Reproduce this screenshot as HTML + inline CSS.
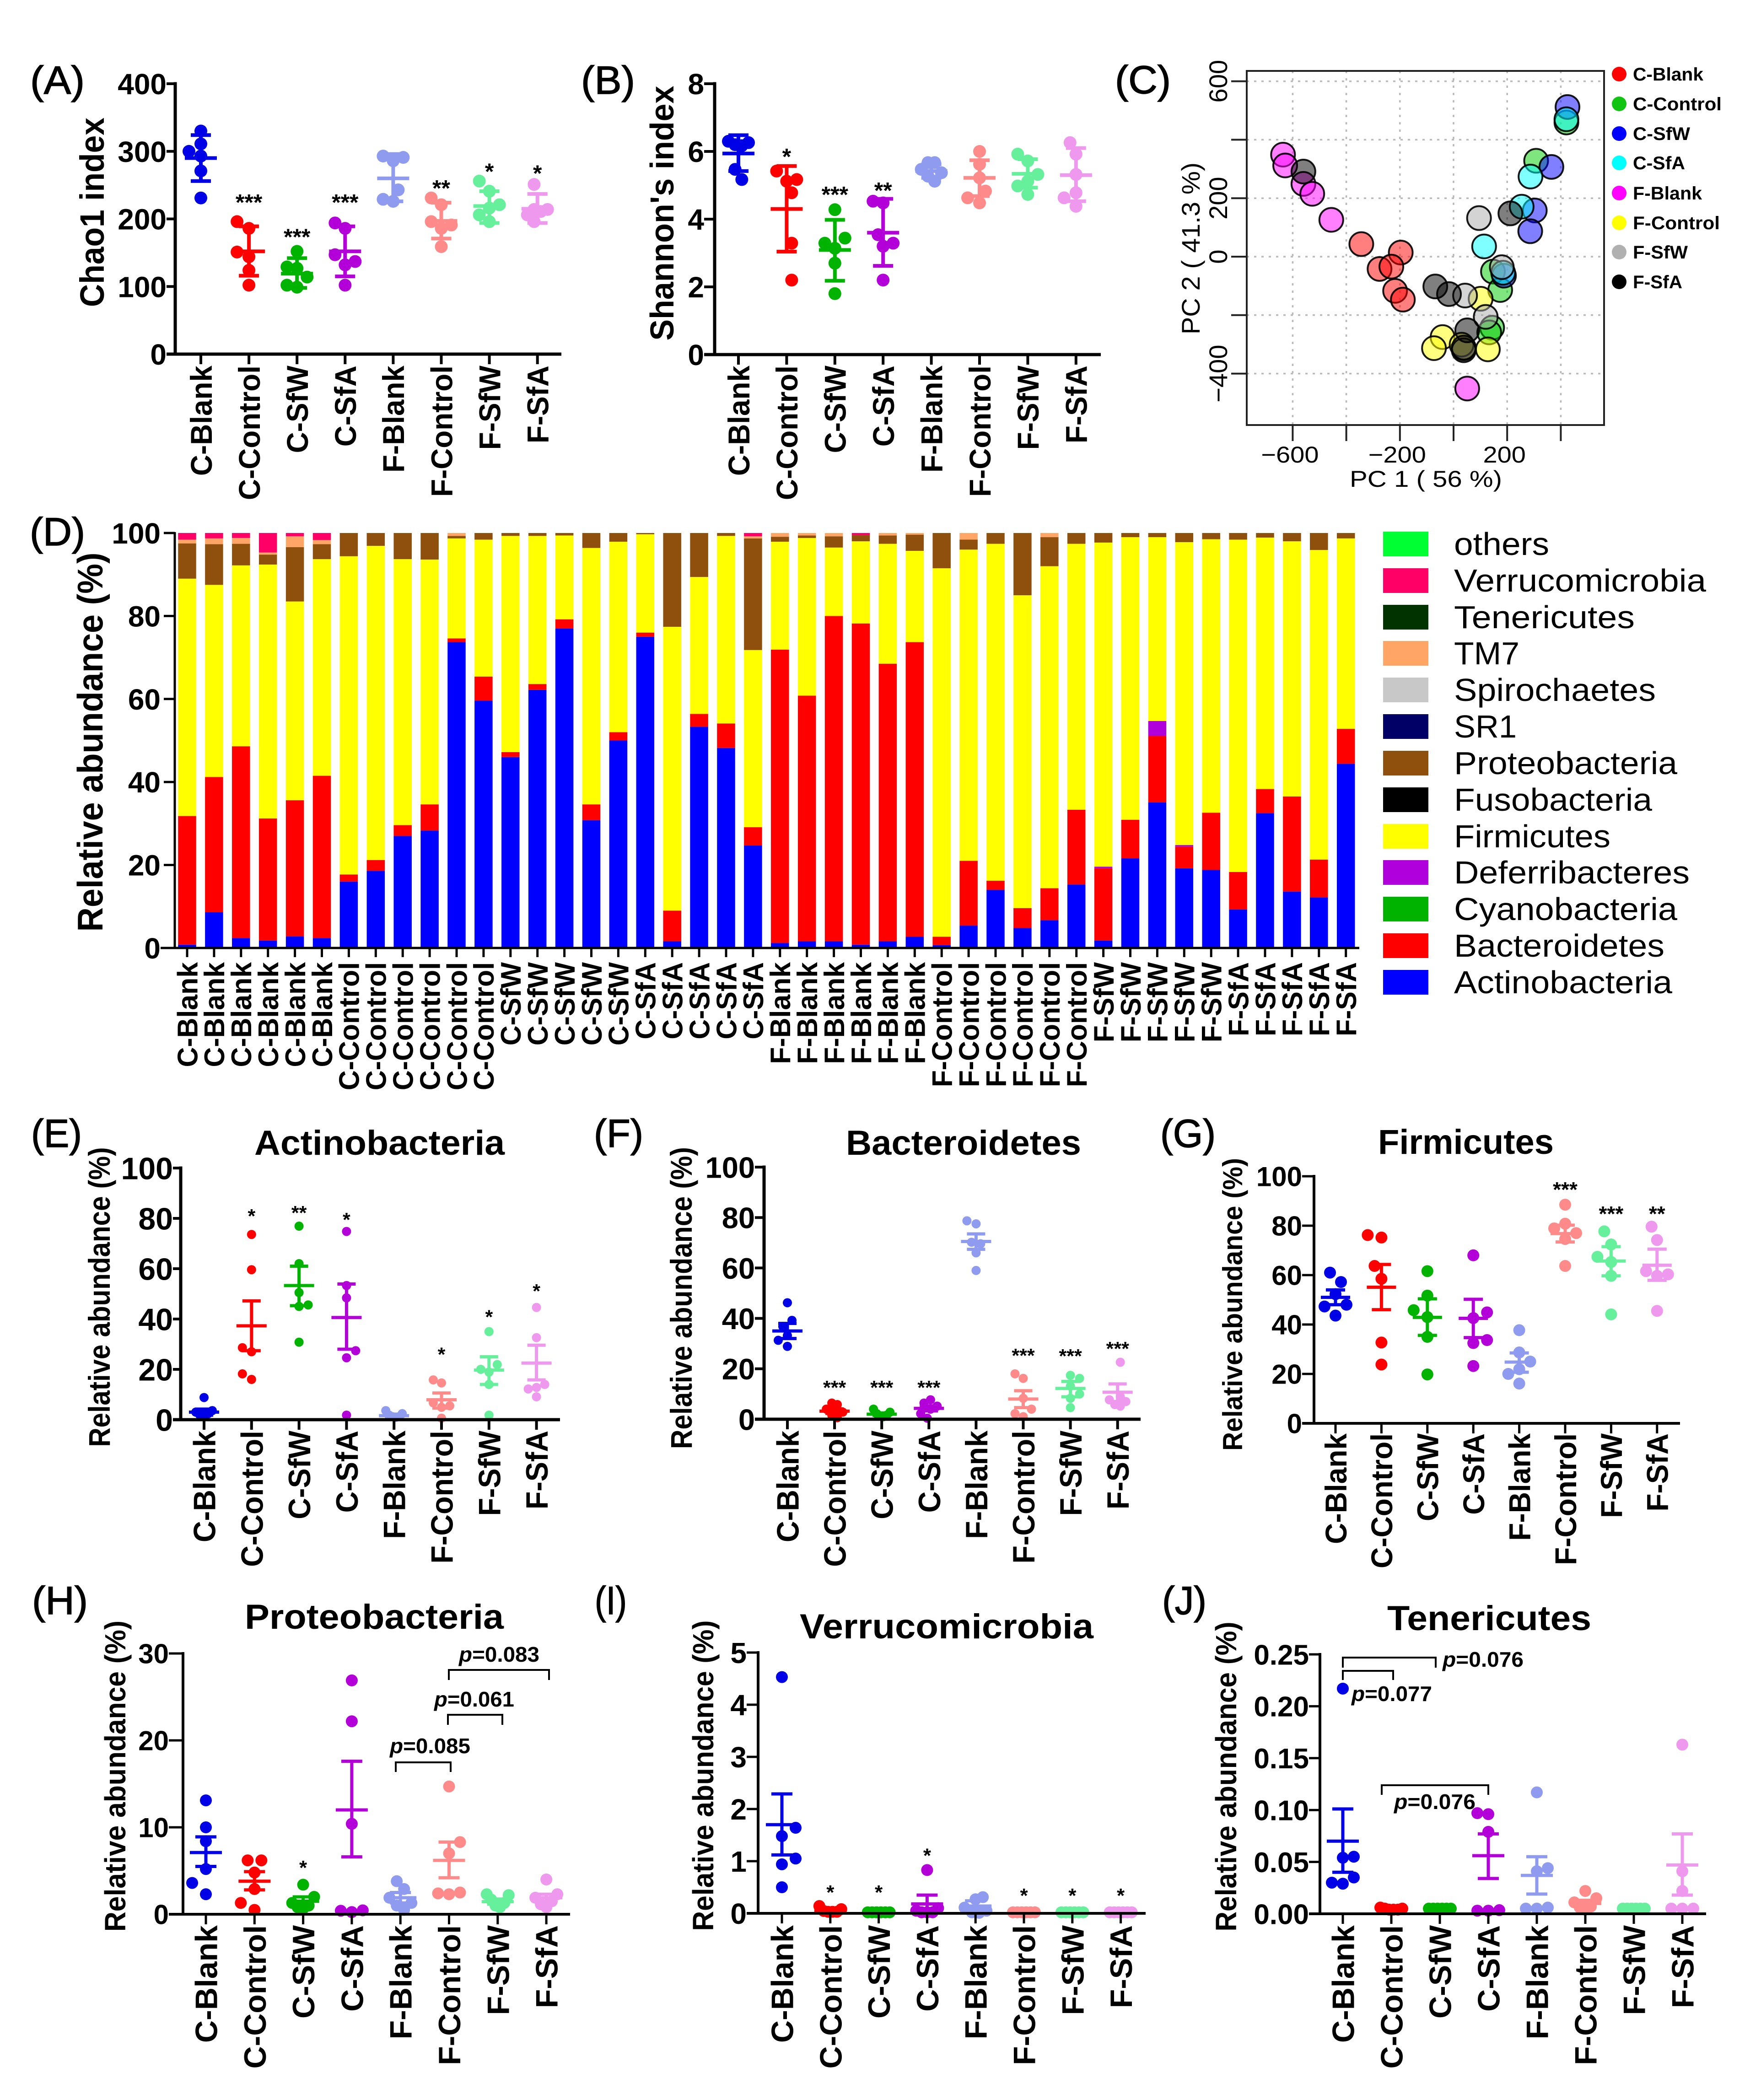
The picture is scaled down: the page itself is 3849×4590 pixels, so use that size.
<!DOCTYPE html>
<html lang="en">
<head>
<meta charset="utf-8">
<title>Gut microbiota diversity and composition figure</title>
<style>
  html, body { margin: 0; padding: 0; background: #fff; }
  svg { display: block; font-family: "Liberation Sans", sans-serif; }
  .b { font-weight: 700; }
</style>
</head>
<body>
<svg id="figure" xmlns="http://www.w3.org/2000/svg" width="3849" height="4590" viewBox="0 0 3849 4590">
  <rect x="0" y="0" width="3849" height="4590" fill="#fff"/>

  <!-- Panel letters -->
  <g font-size="86" fill="#000" stroke="#000" stroke-width="1.5">
    <text x="66" y="205" textLength="119" lengthAdjust="spacingAndGlyphs">(A)</text>
    <text x="1270" y="205" textLength="118" lengthAdjust="spacingAndGlyphs">(B)</text>
    <text x="2437" y="204" textLength="122" lengthAdjust="spacingAndGlyphs">(C)</text>
    <text x="65" y="1192" textLength="121" lengthAdjust="spacingAndGlyphs">(D)</text>
    <text x="68" y="2507" textLength="111" lengthAdjust="spacingAndGlyphs">(E)</text>
    <text x="1298" y="2507" textLength="108" lengthAdjust="spacingAndGlyphs">(F)</text>
    <text x="2536" y="2507" textLength="121" lengthAdjust="spacingAndGlyphs">(G)</text>
    <text x="70" y="3528" textLength="122" lengthAdjust="spacingAndGlyphs">(H)</text>
    <text x="1300" y="3528" textLength="70" lengthAdjust="spacingAndGlyphs">(I)</text>
    <text x="2540" y="3528" textLength="97" lengthAdjust="spacingAndGlyphs">(J)</text>
  </g>

  <!-- Axis titles -->
  <g class="b" fill="#000" text-anchor="middle">
    <text transform="translate(227,464) rotate(-90)" font-size="74" textLength="414" lengthAdjust="spacingAndGlyphs">Chao1 index</text>
    <text transform="translate(1472,466) rotate(-90)" font-size="72" textLength="557" lengthAdjust="spacingAndGlyphs">Shannon's index</text>
    <text transform="translate(224,1622) rotate(-90)" font-size="78" textLength="829" lengthAdjust="spacingAndGlyphs">Relative abundance (%)</text>
    <text transform="translate(240,2835) rotate(-90)" font-size="66" textLength="655" lengthAdjust="spacingAndGlyphs">Relative abundance (%)</text>
    <text transform="translate(1512,2837) rotate(-90)" font-size="66" textLength="660" lengthAdjust="spacingAndGlyphs">Relative abundance (%)</text>
    <text transform="translate(2715,2851) rotate(-90)" font-size="60" textLength="640" lengthAdjust="spacingAndGlyphs">Relative abundance (%)</text>
    <text transform="translate(274,3882) rotate(-90)" font-size="64" textLength="680" lengthAdjust="spacingAndGlyphs">Relative abundance (%)</text>
    <text transform="translate(1559,3881) rotate(-90)" font-size="64" textLength="679" lengthAdjust="spacingAndGlyphs">Relative abundance (%)</text>
    <text transform="translate(2702,3883) rotate(-90)" font-size="64" textLength="677" lengthAdjust="spacingAndGlyphs">Relative abundance (%)</text>
  </g>

  <!-- Chart titles -->
  <g class="b" fill="#000" font-size="76">
    <text x="556" y="2524" textLength="547" lengthAdjust="spacingAndGlyphs">Actinobacteria</text>
    <text x="1849" y="2524" textLength="514" lengthAdjust="spacingAndGlyphs">Bacteroidetes</text>
    <text x="3012" y="2522" textLength="384" lengthAdjust="spacingAndGlyphs">Firmicutes</text>
    <text x="535" y="3560" textLength="566" lengthAdjust="spacingAndGlyphs">Proteobacteria</text>
    <text x="1748" y="3581" textLength="642" lengthAdjust="spacingAndGlyphs">Verrucomicrobia</text>
    <text x="3032" y="3563" textLength="446" lengthAdjust="spacingAndGlyphs">Tenericutes</text>
  </g>

  <!-- P-value annotations -->
  <g fill="none" stroke="#000" stroke-width="4">
    <path d="M865 3873V3852H985V3873"/>
    <path d="M979 3770V3748H1098V3770"/>
    <path d="M981 3672V3650H1200V3672"/>
    <path d="M2935 3645V3623H3138V3645"/>
    <path d="M2935 3672V3652H3045V3672"/>
    <path d="M3020 3923V3902H3253V3923"/>
  </g>
  <g class="b" fill="#000" font-size="46">
    <text x="852" y="3832" textLength="176" lengthAdjust="spacingAndGlyphs"><tspan font-style="italic">p</tspan>=0.085</text>
    <text x="949" y="3730" textLength="175" lengthAdjust="spacingAndGlyphs"><tspan font-style="italic">p</tspan>=0.061</text>
    <text x="1003" y="3632" textLength="176" lengthAdjust="spacingAndGlyphs"><tspan font-style="italic">p</tspan>=0.083</text>
    <text x="3153" y="3643" textLength="177" lengthAdjust="spacingAndGlyphs"><tspan font-style="italic">p</tspan>=0.076</text>
    <text x="2954" y="3718" textLength="176" lengthAdjust="spacingAndGlyphs"><tspan font-style="italic">p</tspan>=0.077</text>
    <text x="3047" y="3954" textLength="178" lengthAdjust="spacingAndGlyphs"><tspan font-style="italic">p</tspan>=0.076</text>
  </g>

  <!-- PCoA axis titles -->
  <g fill="#000" font-size="50">
    <text x="2950" y="1064" textLength="333" lengthAdjust="spacingAndGlyphs">PC 1 ( 56 %)</text>
    <text transform="translate(2622,543) rotate(-90)" text-anchor="middle" font-size="56" textLength="376" lengthAdjust="spacingAndGlyphs">PC 2 ( 41.3 %)</text>
  </g>

  <!-- PCoA legend -->
  <g class="b" font-size="40" fill="#000">
    <circle cx="3539" cy="162" r="16" fill="#f00"/>
    <text x="3569" y="176" textLength="154" lengthAdjust="spacingAndGlyphs">C-Blank</text>
    <circle cx="3539" cy="227" r="16" fill="#11c411"/>
    <text x="3569" y="241" textLength="194" lengthAdjust="spacingAndGlyphs">C-Control</text>
    <circle cx="3539" cy="292" r="16" fill="#00f"/>
    <text x="3569" y="306" textLength="125" lengthAdjust="spacingAndGlyphs">C-SfW</text>
    <circle cx="3539" cy="356" r="16" fill="#0ff"/>
    <text x="3569" y="370" textLength="114" lengthAdjust="spacingAndGlyphs">C-SfA</text>
    <circle cx="3539" cy="422" r="16" fill="#f0f"/>
    <text x="3569" y="436" textLength="151" lengthAdjust="spacingAndGlyphs">F-Blank</text>
    <circle cx="3539" cy="487" r="16" fill="#ff0"/>
    <text x="3569" y="501" textLength="190" lengthAdjust="spacingAndGlyphs">F-Control</text>
    <circle cx="3539" cy="551" r="16" fill="#b0b0b0"/>
    <text x="3569" y="565" textLength="120" lengthAdjust="spacingAndGlyphs">F-SfW</text>
    <circle cx="3539" cy="616" r="16" fill="#000"/>
    <text x="3569" y="630" textLength="108" lengthAdjust="spacingAndGlyphs">F-SfA</text>
  </g>

  <!-- Stacked bar legend -->
  <g font-size="70" fill="#000">
    <rect x="3023" y="1162" width="99" height="54" fill="#00ff33"/>
    <text x="3178" y="1213" textLength="208" lengthAdjust="spacingAndGlyphs">others</text>
    <rect x="3023" y="1242" width="99" height="54" fill="#ff0066"/>
    <text x="3178" y="1293" textLength="551" lengthAdjust="spacingAndGlyphs">Verrucomicrobia</text>
    <rect x="3023" y="1322" width="99" height="54" fill="#003300"/>
    <text x="3178" y="1373" textLength="395" lengthAdjust="spacingAndGlyphs">Tenericutes</text>
    <rect x="3023" y="1401" width="99" height="54" fill="#ffa666"/>
    <text x="3178" y="1452" textLength="143" lengthAdjust="spacingAndGlyphs">TM7</text>
    <rect x="3023" y="1481" width="99" height="54" fill="#c8c8c8"/>
    <text x="3178" y="1532" textLength="441" lengthAdjust="spacingAndGlyphs">Spirochaetes</text>
    <rect x="3023" y="1561" width="99" height="54" fill="#000066"/>
    <text x="3178" y="1612" textLength="137" lengthAdjust="spacingAndGlyphs">SR1</text>
    <rect x="3023" y="1641" width="99" height="54" fill="#8f4f0d"/>
    <text x="3178" y="1692" textLength="488" lengthAdjust="spacingAndGlyphs">Proteobacteria</text>
    <rect x="3023" y="1721" width="99" height="54" fill="#000"/>
    <text x="3178" y="1772" textLength="433" lengthAdjust="spacingAndGlyphs">Fusobacteria</text>
    <rect x="3023" y="1801" width="99" height="54" fill="#ffff00"/>
    <text x="3178" y="1852" textLength="342" lengthAdjust="spacingAndGlyphs">Firmicutes</text>
    <rect x="3023" y="1880" width="99" height="54" fill="#b000dc"/>
    <text x="3178" y="1931" textLength="515" lengthAdjust="spacingAndGlyphs">Deferribacteres</text>
    <rect x="3023" y="1960" width="99" height="54" fill="#00b300"/>
    <text x="3178" y="2011" textLength="488" lengthAdjust="spacingAndGlyphs">Cyanobacteria</text>
    <rect x="3023" y="2040" width="99" height="54" fill="#ff0000"/>
    <text x="3178" y="2091" textLength="460" lengthAdjust="spacingAndGlyphs">Bacteroidetes</text>
    <rect x="3023" y="2120" width="99" height="54" fill="#0000ff"/>
    <text x="3178" y="2171" textLength="477" lengthAdjust="spacingAndGlyphs">Actinobacteria</text>
  </g>

  <g id="plots"></g>
</svg>

<script>
// ---------- shared category data ----------
const categories = ['C-Blank','C-Control','C-SfW','C-SfA','F-Blank','F-Control','F-SfW','F-SfA'];
const groupColors = ['#0000e6','#ff0000','#00b300','#b300d9','#8f9bee','#ff8a8a','#66f09c','#ee99ee'];

// ---------- panel A: Chao1 ----------
const chao1Ticks = ['0','100','200','300','400'];
const chao1Values = [[330,311,300,293,271,231],[196,186,151,144,124,102],[152,129,127,114,102,99],[194,186,147,137,132,102],[293,291,286,243,229,226],[231,221,196,191,186,159],[256,241,221,216,206,196],[251,214,214,211,206,196]];
const chao1Means = [290,152,119,152,260,197,219,215];
const chao1Upper = [324,189,142,189,296,224,241,237];
const chao1Lower = [256,116,98,115,226,171,194,194];
const chao1Stars = ['','***','***','***','','**','*','*'];
const chao1StarHeights = [0,232,181,232,0,253,278,275];

// ---------- panel B: Shannon ----------
const shannonTicks = ['0','2','4','6','8'];
const shannonValues = [[6.3,6.26,6.2,6.17,5.47,5.17],[5.42,5.17,5.12,4.78,3.29,2.2],[4.28,3.44,3.29,3.14,2.7,1.8],[4.53,4.48,3.54,3.29,3.2,2.2],[5.67,5.67,5.47,5.37,5.27,5.12],[6.0,5.62,5.22,4.83,4.63,4.48],[5.92,5.72,5.32,5.12,4.98,4.73],[6.26,5.92,5.32,4.78,4.63,4.38]];
const shannonMeans = [5.94,4.3,3.09,3.6,5.42,5.22,5.34,5.3];
const shannonUpper = [6.48,5.57,3.98,4.6,5.62,5.74,5.77,6.1];
const shannonLower = [5.42,3.04,2.18,2.62,5.22,4.68,4.93,4.53];
const shannonStars = ['','*','***','**','','','',''];
const shannonStarHeights = [0,6.0,4.88,5.0,0,0,0,0];

// ---------- panel C: PCoA ----------
const pcaXTicks = [-600,-400,-200,0,200,400];
const pcaYTicks = [600,400,200,0,-200,-400];
const pcaXTickLabels = ['\u2212600','','\u2212200','','200',''];
const pcaYTickLabels = ['600','','200','0','','\u2212400'];
const pcaColors = ['#ff0000','#00cc00','#0000ff','#00ffff','#ff00ff','#ffff00','#aaaaaa','#000000'];
const pcaX = [[-344,-197,-276,-232,-218,-189],[308,147,174,144,133,421],[425,365,303,286,188],[421,287,254,114,185],[-636,-628,-560,-527,-456,51],[101,-41,-73,38,128,30],[95,180,43,120,38],[-560,212,-68,-17,51,38]];
const pcaY = [[43,14,-42,-34,-117,-147],[328,-51,-114,-243,-259,459],[512,307,158,87,-65],[470,274,171,35,-55],[349,312,249,215,126,-451],[-144,-275,-313,-313,-317,-301],[132,-36,-133,-206,-311],[291,148,-102,-128,-252,-320]];

// ---------- panel D: stacked composition ----------
const sampleLabels = ['C-Blank','C-Blank','C-Blank','C-Blank','C-Blank','C-Blank','C-Control','C-Control','C-Control','C-Control','C-Control','C-Control','C-SfW','C-SfW','C-SfW','C-SfW','C-SfW','C-SfA','C-SfA','C-SfA','C-SfA','C-SfA','F-Blank','F-Blank','F-Blank','F-Blank','F-Blank','F-Blank','F-Control','F-Control','F-Control','F-Control','F-Control','F-Control','F-SfW','F-SfW','F-SfW','F-SfW','F-SfW','F-SfA','F-SfA','F-SfA','F-SfA','F-SfA'];
const stackTicks = ['0','20','40','60','80','100'];
const stackNames = ['actinobacteria','bacteroidetes','deferribacteres','firmicutes','proteobacteria','tm7','verrucomicrobia'];
const stackColors = ['#0000ff','#ff0000','#b000dc','#ffff00','#8f4f0d','#ffa666','#ff0066'];
const actinobacteria = [0.8,8.6,2.4,1.8,2.8,2.4,16,18.6,27,28.3,73.7,59.6,46,62.2,77,30.8,50,75,1.6,53.3,48.2,24.7,1.2,1.6,1.6,0.8,1.6,2.7,0.7,5.4,14,4.8,6.7,15.3,1.8,21.6,35.1,19.2,18.8,9.3,32.5,13.6,12.2,44.4];
const bacteroidetes = [31,32.6,46.2,29.4,32.8,39.1,1.7,2.6,2.6,6.3,0.9,5.8,1.2,1.4,2.2,3.8,2,1,7.4,3.1,5.9,4.4,70.7,59.2,78.4,77.4,66.9,71,2,15.6,2.2,4.8,7.7,18,17.4,9.3,16,5.2,13.8,9,5.8,22.9,9.1,8.4];
const deferribacteres = [0,0,0,0,0,0,0,0,0,0,0,0,0,0,0,0,0,0,0,0,0,0,0,0,0,0,0,0,0,0,0,0,0,0,0.4,0,3.6,0.4,0,0,0,0,0,0];
const firmicutes = [57.2,46.3,43.6,61.2,47.9,52.2,76.7,75.7,64.1,59,24.1,33,52.1,35.7,20.2,61.8,45.9,23.7,68.4,33,45.2,42.7,26,38,16.5,19.8,28.9,22,88.8,75,81.2,75.4,77.6,64.1,78.1,68.1,44.3,73,65.9,80.1,60.6,61.5,74.6,45.9];
const proteobacteria = [8.5,9.8,5.2,2.4,13.1,3.6,5.6,3.1,6.3,6.4,0.6,1.6,0.7,0.7,0.6,3.6,2.1,0.3,22.6,10.6,0.7,26.9,1.2,0.6,2.7,1.5,2,3.9,8.5,2.4,2.6,15,7,2.6,2.3,1,1,2.2,1.5,1.6,1.1,2,4.1,1.3];
const tm7 = [0.9,1.4,1.4,0.5,2.6,1,0,0,0,0,0.7,0,0,0,0,0,0,0,0,0,0,0.5,0.9,0.6,0.8,0,0.6,0.4,0,1.6,0,0,1,0,0,0,0,0,0,0,0,0,0,0];
const verrucomicrobia = [1.6,1.3,1.2,4.7,0.8,1.7,0,0,0,0,0,0,0,0,0,0,0,0,0,0,0,0.8,0,0,0,0.5,0,0,0,0,0,0,0,0,0,0,0,0,0,0,0,0,0,0];
const stackSeries = [actinobacteria,bacteroidetes,deferribacteres,firmicutes,proteobacteria,tm7,verrucomicrobia];

// ---------- panel E: Actinobacteria ----------
const actinoTicks = ['0','20','40','60','80','100'];
const actinoValues = [[8.8,3.6,3,2.4,1.8,1.2],[73.6,59.6,28.6,27,18.2,16],[76.9,62,50.5,45.6,45,30.8],[74.8,53.3,48.4,27.4,24.6,1.8],[3.6,2.4,1.8,1.2,1.2,0.9],[15.8,14.6,6.7,5.5,4.9,0.6],[35,21.9,20,18.9,14,1.8],[44.6,32.6,14,12.8,12.2,9.1]];
const actinoMeans = [3,37.3,53.3,40.6,1.6,7.9,19.7,22.5];
const actinoUpper = [4.2,47.2,61,53.9,2.2,10.6,25,29.6];
const actinoLower = [1.8,27.4,45.3,28,1,4.6,14,15.8];
const actinoStars = ['','*','**','*','','*','*','*'];
const actinoStarHeights = [0,82.7,84,81.3,0,27.7,42.6,52.9];

// ---------- panel F: Bacteroidetes ----------
const bacteroTicks = ['0','20','40','60','80','100'];
const bacteroValues = [[46.2,39.2,36.8,33.2,31.3,28.9],[6.4,5.8,4,2.8,1.6,0.6],[4,2.8,2.2,1.6,1.2,1],[7.7,6.4,5.2,4,2.2,0.4],[78.7,77.5,70.2,69.6,66,59],[18,16.2,8.3,4,2.2,1],[17.4,16.2,13.1,10,8.3,4.6],[22.6,8.9,7.7,7,5.8,5.2]];
const bacteroMeans = [35,3.2,2,4.3,70.5,8,12.2,10.7];
const bacteroUpper = [38,4.1,2.5,5.3,73.5,11.3,15,14];
const bacteroLower = [32,2.3,1.5,3.3,67.4,4.6,8.9,7];
const bacteroStars = ['','***','***','***','','***','***','***'];
const bacteroStarHeights = [0,14.3,14.3,14.3,0,27,26.9,29.8];

// ---------- panel G: Firmicutes ----------
const firmTicks = ['0','20','40','60','80','100'];
const firmValues = [[61,57.2,52.3,48,47.3,43.6],[76.2,75.2,63.7,58.5,32.7,23.8],[61.6,51.7,45.8,43,35,19.8],[68,44.9,42.6,33.7,32.5,23.2],[37.7,28.7,25,21.9,20,16.1],[88.5,80.8,78.9,77,74.6,63.7],[77.7,72.4,67.4,65.3,59.7,44.1],[79.6,74.2,61.6,60.3,59.7,45.5]];
const firmMeans = [51,55.1,42.9,42.5,24.8,76.8,65.7,64];
const firmUpper = [54,64.3,50.4,50.2,28.5,80.2,71.5,70.5];
const firmLower = [48,46,35.6,34.7,20.7,73.4,59.7,57.9];
const firmStars = ['','','','','','***','***','**'];
const firmStarHeights = [0,0,0,0,0,96.5,86.7,86.7];

// ---------- panel H: Proteobacteria ----------
const proteoTicks = ['0','10','20','30'];
const proteoValues = [[13.1,10,8.4,5.2,3.6,2.3],[6.2,6.2,4.8,2.9,1.3,0.5],[3.4,2,1.3,1,0.8,0.65],[26.9,22.2,10.4,0.45,0.4,0.25],[3.8,2.9,1.9,1.3,1,0.5],[14.7,8.3,7,2.5,2.4,2.3],[2.3,2.2,1.7,1.3,1,0.8],[4,2.3,1.9,1.5,1.15,0.8]];
const proteoMeans = [7.1,3.8,1.5,12,1.9,6.2,1.45,1.9];
const proteoUpper = [8.9,4.9,2,17.6,2.5,8.3,1.75,2.3];
const proteoLower = [5.5,2.8,1,6.6,1.3,4.2,1.15,1.5];
const proteoStars = ['','','*','','','','',''];
const proteoStarHeights = [0,0,5.9,0,0,0,0,0];

// ---------- panel I: Verrucomicrobia ----------
const verruTicks = ['0','1','2','3','4','5'];
const verruValues = [[4.53,1.64,1.48,1.05,0.94,0.5],[0.14,0.08,0.045,0.03,0.03,0.03],[0.02,0.02,0.02,0.02,0.02,0.02],[0.83,0.1,0.05,0.02,0.02,0.02],[0.31,0.27,0.11,0.05,0.02,0.01],[0.02,0.02,0.02,0.02,0.02,0.02],[0.02,0.02,0.02,0.02,0.02,0.02],[0.02,0.02,0.02,0.02,0.02,0.02]];
const verruMeans = [1.7,0.05,0.02,0.18,0.14,0.02,0.02,0.02];
const verruUpper = [2.29,0.07,0.02,0.35,0.24,0.02,0.02,0.02];
const verruLower = [1.12,0.03,0.02,0.02,0.04,0.02,0.02,0.02];
const verruStars = ['','*','*','*','','*','*','*'];
const verruStarHeights = [0,0.49,0.49,1.2,0,0.43,0.43,0.43];

// ---------- panel J: Tenericutes ----------
const teneTicks = ['0.00','0.05','0.10','0.15','0.20','0.25'];
const teneValues = [[0.217,0.055,0.054,0.035,0.03,0.029],[0.006,0.005,0.004,0.004,0.004,0.005],[0.005,0.005,0.005,0.005,0.005,0.005],[0.097,0.096,0.079,0.0035,0.003,0.003],[0.117,0.044,0.041,0.006,0.005,0.005],[0.022,0.015,0.011,0.007,0.006,0.004],[0.005,0.005,0.005,0.005,0.005,0.005],[0.163,0.041,0.022,0.005,0.005,0.005]];
const teneMeans = [0.07,0.005,0.005,0.056,0.037,0.01,0.005,0.047];
const teneUpper = [0.101,0.005,0.005,0.077,0.055,0.013,0.005,0.077];
const teneLower = [0.04,0.005,0.005,0.034,0.019,0.007,0.005,0.018];

// ---------- drawing helpers ----------
const NS = 'http://www.w3.org/2000/svg';
const plots = document.getElementById('plots');

function make(tag, attrs, parent) {
  const node = document.createElementNS(NS, tag);
  for (const key in attrs) node.setAttribute(key, attrs[key]);
  parent.appendChild(node);
  return node;
}

function line(parent, x1, y1, x2, y2, stroke, width) {
  return make('line', {x1: x1, y1: y1, x2: x2, y2: y2, stroke: stroke, 'stroke-width': width}, parent);
}

function label(parent, x, y, str, size, opts) {
  const o = opts || {};
  const parts = ['translate(' + x + ',' + y + ')'];
  if (o.rotate) parts.push('rotate(' + o.rotate + ')');
  if (o.sx) parts.push('scale(' + o.sx + ',1)');
  const node = make('text', {
    transform: parts.join(' '),
    'font-size': size,
    'font-weight': o.weight || 'bold',
    'text-anchor': o.anchor || 'middle',
    fill: '#000'
  }, parent);
  node.textContent = str;
  return node;
}

// Deterministic beeswarm: spreads colliding points sideways, then compresses
// any group that would grow wider than the allowed band.
function swarmOffsets(pixelYs, minDist, maxOffset) {
  const order = pixelYs.map((y, i) => i).sort((a, b) => pixelYs[b] - pixelYs[a]);
  const placed = [];
  const offsets = new Array(pixelYs.length).fill(0);
  order.forEach((idx, n) => {
    const y = pixelYs[idx];
    const sign = n % 2 ? -1 : 1;
    for (let k = 0; k < 40; k++) {
      const step = Math.ceil(k / 2) * (k % 2 ? sign : -sign) * minDist * 0.5;
      if (placed.every(p => Math.hypot(p.x - step, p.y - y) >= minDist)) {
        offsets[idx] = step;
        placed.push({x: step, y: y});
        break;
      }
    }
  });
  const lo = Math.min.apply(null, offsets);
  const hi = Math.max.apply(null, offsets);
  if (hi - lo > 2 * maxOffset) {
    const mid = (hi + lo) / 2;
    const scale = (2 * maxOffset) / (hi - lo);
    return offsets.map(o => (o - mid) * scale);
  }
  return offsets;
}

function drawScatterPanel(cfg) {
  const group = make('g', {}, plots);
  
  

  const maxValue = Number(cfg.ticks[cfg.ticks.length - 1]);
  const xPos = i => cfg.firstX + i * cfg.stepX;
  const yPos = v => cfg.y0 - (v / maxValue) * (cfg.y0 - cfg.yTop);

  // marks
  cfg.values.forEach((groupValues, g) => {
    const color = groupColors[g];
    const pixelYs = groupValues.map(yPos);
    const offsets = swarmOffsets(pixelYs, cfg.minD, cfg.maxOff);
    groupValues.forEach((v, i) => {
      const dot = make('circle', {cx: xPos(g) + offsets[i], cy: yPos(v), r: cfg.r, fill: color}, group);
      
      
    });
    const cx = xPos(g);
    const yUp = yPos(cfg.upper[g]);
    const yLow = yPos(cfg.lower[g]);
    const yMean = yPos(cfg.means[g]);
    const stem = line(group, cx, yUp, cx, yLow, color, cfg.lw);
    
    
    const capTop = line(group, cx - cfg.capHalf, yUp, cx + cfg.capHalf, yUp, color, cfg.lw);
    
    
    const capLow = line(group, cx - cfg.capHalf, yLow, cx + cfg.capHalf, yLow, color, cfg.lw);
    
    
    const mean = line(group, cx - cfg.meanHalf, yMean, cx + cfg.meanHalf, yMean, color, cfg.lw);
    
    
  });

  // significance stars
  if (cfg.stars) {
    cfg.stars.forEach((s, g) => {
      if (!s) return;
      const star = label(group, xPos(g), yPos(cfg.starHeights[g]) + 0.57 * cfg.starFs, s, cfg.starFs);
      
      
    });
  }

  // y axis
  const yAxis = line(group, cfg.x0, cfg.yTop - cfg.axisW / 2, cfg.x0, cfg.y0 + cfg.axisW / 2, '#000', cfg.axisW);
  
  
  cfg.ticks.forEach(t => {
    const y = yPos(Number(t));
    const tick = line(group, cfg.tickRight, y, cfg.x0, y, '#000', cfg.axisW - 1);
    
    
    const txt = label(group, cfg.tickRight, y + 0.36 * cfg.tickFs, t, cfg.tickFs, {anchor: 'end'});
    
    
  });

  // x axis
  const xAxis = line(group, cfg.tickRight, cfg.y0, cfg.xEnd, cfg.y0, '#000', cfg.axisW);
  
  
  categories.forEach((c, i) => {
    const tick = line(group, xPos(i), cfg.y0, xPos(i), cfg.y0 + 22, '#000', cfg.axisW - 1);
    
    
    const txt = label(group, xPos(i) + 0.36 * cfg.catFs, cfg.catEnd, c, cfg.catFs, {anchor: 'end', rotate: -90, sx: cfg.catSx});
    
    
  });
}

// ---------- panels ----------
drawScatterPanel({id:'chao1', values:chao1Values, means:chao1Means, upper:chao1Upper, lower:chao1Lower, stars:chao1Stars, starHeights:chao1StarHeights, ticks:chao1Ticks,
  x0:383, xEnd:1227, y0:774, yTop:183, firstX:439, stepX:105.1, tickFs:64, tickRight:364, catFs:66, catSx:0.967, catEnd:799, r:14, minD:26, maxOff:22, meanHalf:35, capHalf:22, lw:8, axisW:7, starFs:50});
drawScatterPanel({id:'shannon', values:shannonValues, means:shannonMeans, upper:shannonUpper, lower:shannonLower, stars:shannonStars, starHeights:shannonStarHeights, ticks:shannonTicks,
  x0:1562, xEnd:2406, y0:775, yTop:183, firstX:1614, stepX:105.4, tickFs:64, tickRight:1539, catFs:66, catSx:0.967, catEnd:799, r:14, minD:26, maxOff:22, meanHalf:35, capHalf:22, lw:8, axisW:7, starFs:50});
drawScatterPanel({id:'actinobacteria', values:actinoValues, means:actinoMeans, upper:actinoUpper, lower:actinoLower, stars:actinoStars, starHeights:actinoStarHeights, ticks:actinoTicks,
  x0:395, xEnd:1224, y0:3103, yTop:2553, firstX:446, stepX:103.8, tickFs:68, tickRight:378, catFs:68, catSx:0.95, catEnd:3127, r:10, minD:20, maxOff:18, meanHalf:33, capHalf:20, lw:7, axisW:7, starFs:43});
drawScatterPanel({id:'bacteroidetes', values:bacteroValues, means:bacteroMeans, upper:bacteroUpper, lower:bacteroLower, stars:bacteroStars, starHeights:bacteroStarHeights, ticks:bacteroTicks,
  x0:1670, xEnd:2493, y0:3102, yTop:2551, firstX:1721, stepX:103.1, tickFs:65, tickRight:1650, catFs:68, catSx:0.95, catEnd:3127, r:10, minD:20, maxOff:18, meanHalf:33, capHalf:20, lw:7, axisW:7, starFs:43});
drawScatterPanel({id:'firmicutes', values:firmValues, means:firmMeans, upper:firmUpper, lower:firmLower, stars:firmStars, starHeights:firmStarHeights, ticks:firmTicks,
  x0:2872, xEnd:3672, y0:3111, yTop:2571, firstX:2919, stepX:100.4, tickFs:60, tickRight:2846, catFs:66, catSx:0.97, catEnd:3133, r:13, minD:30, maxOff:24, meanHalf:32, capHalf:21, lw:7, axisW:6, starFs:46});
drawScatterPanel({id:'proteobacteria', values:proteoValues, means:proteoMeans, upper:proteoUpper, lower:proteoLower, stars:proteoStars, starHeights:proteoStarHeights, ticks:proteoTicks,
  x0:400, xEnd:1246, y0:4184, yTop:3614, firstX:450, stepX:106.3, tickFs:60, tickRight:369, catFs:68, catSx:1, catEnd:4208, r:13, minD:30, maxOff:24, meanHalf:35, capHalf:23, lw:7, axisW:6, starFs:44});
drawScatterPanel({id:'verrucomicrobia', values:verruValues, means:verruMeans, upper:verruUpper, lower:verruLower, stars:verruStars, starHeights:verruStarHeights, ticks:verruTicks,
  x0:1657, xEnd:2504, y0:4182, yTop:3612, firstX:1709, stepX:105.8, tickFs:64, tickRight:1632, catFs:68, catSx:1, catEnd:4208, r:13, minD:30, maxOff:24, meanHalf:35, capHalf:23, lw:7, axisW:6, starFs:44});
drawScatterPanel({id:'tenericutes', values:teneValues, means:teneMeans, upper:teneUpper, lower:teneLower, ticks:teneTicks,
  x0:2885, xEnd:3729, y0:4183, yTop:3616, firstX:2935, stepX:106, tickFs:62, tickRight:2861, catFs:68, catSx:1, catEnd:4208, r:13, minD:30, maxOff:24, meanHalf:35, capHalf:23, lw:7, axisW:6, starFs:44});

// ---------- stacked bars (panel D) ----------
(function drawStacked() {
  const group = make('g', {}, plots);
  
  
  const y0 = 2072, yTop = 1165, axisX = 382, xEnd = 2971, firstX = 409, stepX = 58.9, barW = 39.5;
  const yPos = v => y0 - (v / 100) * (y0 - yTop);
  const xPos = i => firstX + i * stepX;

  sampleLabels.forEach((name, i) => {
    let cumulative = 0;
    stackSeries.forEach((series, s) => {
      const v = series[i];
      if (v > 0) {
        const seg = make('rect', {x: xPos(i) - barW / 2, y: yPos(cumulative + v), width: barW, height: yPos(cumulative) - yPos(cumulative + v), fill: stackColors[s]}, group);
        
        
      }
      cumulative += v;
    });
    const tick = line(group, xPos(i), y0, xPos(i), y0 + 20, '#000', 5);
    
    
    const txt = label(group, xPos(i) + 0.36 * 62, 2103, name, 62, {anchor: 'end', rotate: -90, sx: 0.98});
    
    
  });

  const yAxis = line(group, axisX, yTop - 2, axisX, y0 + 2, '#000', 5);
  
  
  const xAxis = line(group, 351, y0, xEnd, y0, '#000', 5);
  
  
  stackTicks.forEach(t => {
    const y = yPos(Number(t));
    const tick = line(group, 358, y, axisX, y, '#000', 5);
    
    
    const txt = label(group, 351, y + 0.36 * 64, t, 64, {anchor: 'end'});
    
    
  });
})();

// ---------- PCoA (panel C) ----------
(function drawPca() {
  const group = make('g', {}, plots);
  
  
  const left = 2725, right = 3506, top = 155, bottom = 929;
  const xPos = v => 3177 + v * (117.2 / 200);
  const yPos = v => 561 - v * (127.8 / 200);

  pcaXTicks.forEach((t, i) => {
    const grid = line(group, xPos(t), top, xPos(t), bottom, '#b9b9b9', 3.5);
    grid.setAttribute('stroke-dasharray', '5 11');
    
    
    const tick = line(group, xPos(t), bottom, xPos(t), bottom + 35, '#222', 4);
    
    
    if (pcaXTickLabels[i]) {
      const txt = label(group, xPos(t) - 6, 1011, pcaXTickLabels[i], 50, {weight: 'normal', sx: 1.12});
      
      
    }
  });
  pcaYTicks.forEach((t, i) => {
    const grid = line(group, left, yPos(t), right, yPos(t), '#b9b9b9', 3.5);
    grid.setAttribute('stroke-dasharray', '5 11');
    
    
    const tick = line(group, left - 34, yPos(t), left, yPos(t), '#222', 4);
    
    
    if (pcaYTickLabels[i]) {
      const txt = label(group, 2682, yPos(t), pcaYTickLabels[i], 56, {weight: 'normal', rotate: -90});
      
      
    }
  });

  pcaX.forEach((xs, g) => {
    xs.forEach((x, i) => {
      const dot = make('circle', {cx: xPos(x), cy: yPos(pcaY[g][i]), r: 26, fill: pcaColors[g], 'fill-opacity': 0.5, stroke: '#000', 'stroke-opacity': 0.9, 'stroke-width': 4}, group);
      
      
    });
  });

  const box = make('rect', {x: left, y: top, width: right - left, height: bottom - top, fill: 'none', stroke: '#222', 'stroke-width': 4}, group);
  
  
})();
</script>
</body>
</html>
